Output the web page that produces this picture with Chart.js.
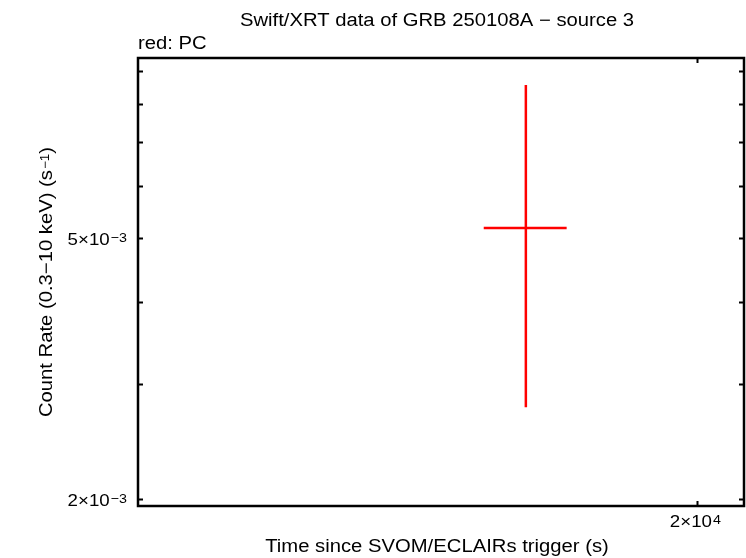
<!DOCTYPE html>
<html>
<head>
<meta charset="utf-8">
<script src="https://cdn.jsdelivr.net/npm/chart.js@4/dist/chart.umd.min.js"></script>
<style>
html,body{margin:0;padding:0;background:#fff;}
canvas{display:block;}
</style>
</head>
<body>
<canvas id="c" width="746" height="558"></canvas>
<script>
// ---- data ----
const timeMid   = [1.753e4];
const timeLo    = [1.697e4];
const timeHi    = [1.809e4];
const rateMid   = [5.179e-3];
const rateLo    = [2.762e-3];
const rateHi    = [8.555e-3];

const xRange = [1.3e4, 2.074e4];
const yRange = [1.952e-3, 9.408e-3];

const xTickValues = [2e4];
const xTickMant   = ['2×10'];
const xTickExp    = ['4'];
const yTickValues = [2e-3, 3e-3, 4e-3, 5e-3, 6e-3, 7e-3, 8e-3, 9e-3];
const yTickMant   = ['2×10', '', '', '5×10', '', '', '', ''];
const yTickExp    = ['\u22123', '', '', '\u22123', '', '', '', ''];

const titleText = 'Swift/XRT data of GRB 250108A \u2212 source 3';
const subText = 'red: PC';
const xTitle = 'Time since SVOM/ECLAIRs trigger (s)';
const yTitleMain = 'Count Rate (0.3\u221210 keV) (s';
const yTitleExp = '\u22121';
const yTitleEnd = ')';

const FONT = '"Liberation Sans", Arial, Helvetica, sans-serif';
const SX = 1.125;

function drawText(ctx, text, x, y, align, size, sx) {
  ctx.save();
  ctx.font = size + 'px ' + FONT;
  ctx.textBaseline = 'middle';
  ctx.textAlign = align;
  ctx.translate(x, y);
  ctx.scale(sx, 1);
  ctx.fillText(text, 0, 0);
  ctx.restore();
}

function drawSup(ctx, mant, exp, x, yMid, align, size, supSize, sx) {
  ctx.save();
  ctx.font = size + 'px ' + FONT;
  const w1 = ctx.measureText(mant).width * sx;
  ctx.font = supSize + 'px ' + FONT;
  const w2 = ctx.measureText(exp).width * sx;
  const total = w1 + w2;
  let x0 = align === 'right' ? x - total : (align === 'center' ? x - total / 2 : x);
  const cap = size * 0.716;
  const supCap = supSize * 0.716;
  ctx.textAlign = 'left';
  ctx.textBaseline = 'alphabetic';
  ctx.font = size + 'px ' + FONT;
  ctx.save(); ctx.translate(x0, yMid + cap / 2); ctx.scale(sx, 1); ctx.fillText(mant, 0, 0); ctx.restore();
  ctx.font = supSize + 'px ' + FONT;
  ctx.save(); ctx.translate(x0 + w1 + 1, yMid - cap / 2 + supCap); ctx.scale(sx, 1); ctx.fillText(exp, 0, 0); ctx.restore();
  ctx.restore();
}

const framePlugin = {
  id: 'frame',
  afterDatasetsDraw(chart) {
    const ctx = chart.ctx;
    const a = chart.chartArea;
    const xs = chart.scales.x, ys = chart.scales.y;
    ctx.save();
    // error bars
    ctx.strokeStyle = '#ff0000';
    ctx.lineWidth = 2.5;
    for (let i = 0; i < timeMid.length; i++) {
      const px = xs.getPixelForValue(timeMid[i]);
      const py = ys.getPixelForValue(rateMid[i]);
      ctx.beginPath();
      ctx.moveTo(xs.getPixelForValue(timeLo[i]), py);
      ctx.lineTo(xs.getPixelForValue(timeHi[i]), py);
      ctx.moveTo(px, ys.getPixelForValue(rateLo[i]));
      ctx.lineTo(px, ys.getPixelForValue(rateHi[i]));
      ctx.stroke();
    }
    // frame
    ctx.strokeStyle = '#000';
    ctx.lineWidth = 2.5;
    ctx.strokeRect(a.left, a.top, a.right - a.left, a.bottom - a.top);
    // ticks
    ctx.lineWidth = 2;
    const tl = 5;
    yTickValues.forEach(v => {
      const y = Math.round(ys.getPixelForValue(v)) + 0.5;
      ctx.beginPath();
      ctx.moveTo(a.left, y); ctx.lineTo(a.left + tl, y);
      ctx.moveTo(a.right, y); ctx.lineTo(a.right - tl, y);
      ctx.stroke();
    });
    xTickValues.forEach(v => {
      const x = Math.round(xs.getPixelForValue(v)) + 0.5;
      ctx.beginPath();
      ctx.moveTo(x, a.bottom); ctx.lineTo(x, a.bottom - tl);
      ctx.moveTo(x, a.top); ctx.lineTo(x, a.top + tl);
      ctx.stroke();
    });
    // tick labels
    ctx.fillStyle = '#000';
    yTickValues.forEach((v, i) => {
      if (!yTickMant[i]) return;
      drawSup(ctx, yTickMant[i], yTickExp[i], a.left - 12, ys.getPixelForValue(v) + 1, 'right', 17, 13, 1.1);
    });
    xTickValues.forEach((v, i) => {
      drawSup(ctx, xTickMant[i], xTickExp[i], xs.getPixelForValue(v) - 2, 521, 'center', 17, 13, 1.1);
    });
    // titles
    drawText(ctx, titleText, 437, 21, 'center', 18, SX);
    drawText(ctx, subText, a.left, 44, 'left', 18, SX);
    drawText(ctx, xTitle, 437, 547, 'center', 18, SX);
    // y title (rotated) with superscript
    ctx.save();
    ctx.translate(47, (a.top + a.bottom) / 2);
    ctx.rotate(-Math.PI / 2);
    ctx.font = '18px ' + FONT;
    const w1 = ctx.measureText(yTitleMain).width * SX;
    const w3 = ctx.measureText(yTitleEnd).width * SX;
    ctx.font = '12px ' + FONT;
    const w2 = ctx.measureText(yTitleExp).width * SX + 1;
    const x0 = -(w1 + w2 + w3) / 2;
    drawText(ctx, yTitleMain, x0, 0, 'left', 18, SX);
    ctx.save();
    ctx.font = '12px ' + FONT; ctx.textBaseline = 'alphabetic'; ctx.textAlign = 'left';
    ctx.translate(x0 + w1 + 1, -6.4 + 8.6); ctx.scale(SX, 1); ctx.fillText(yTitleExp, 0, 0);
    ctx.restore();
    drawText(ctx, yTitleEnd, x0 + w1 + w2, 0, 'left', 18, SX);
    ctx.restore();
    ctx.restore();
  }
};

new Chart(document.getElementById('c'), {
  type: 'scatter',
  data: {
    datasets: [{
      data: timeMid.map((t, i) => ({x: t, y: rateMid[i]})),
      pointRadius: 0,
      showLine: false
    }]
  },
  options: {
    responsive: false,
    devicePixelRatio: 1,
    animation: false,
    layout: {padding: {top: 58, right: 2, left: 0, bottom: 0}},
    plugins: {legend: {display: false}, tooltip: {enabled: false}, title: {display: false}},
    scales: {
      x: {
        type: 'logarithmic',
        min: xRange[0], max: xRange[1],
        grid: {display: false, drawTicks: false},
        border: {display: false},
        afterBuildTicks: s => { s.ticks = xTickValues.map(v => ({value: v})); },
        afterFit: s => { s.height = 52; },
        ticks: {display: false}
      },
      y: {
        type: 'logarithmic',
        min: yRange[0], max: yRange[1],
        grid: {display: false, drawTicks: false},
        border: {display: false},
        afterBuildTicks: s => { s.ticks = yTickValues.map(v => ({value: v})); },
        afterFit: s => { s.width = 138; },
        ticks: {display: false}
      }
    }
  },
  plugins: [framePlugin]
});
</script>
</body>
</html>
